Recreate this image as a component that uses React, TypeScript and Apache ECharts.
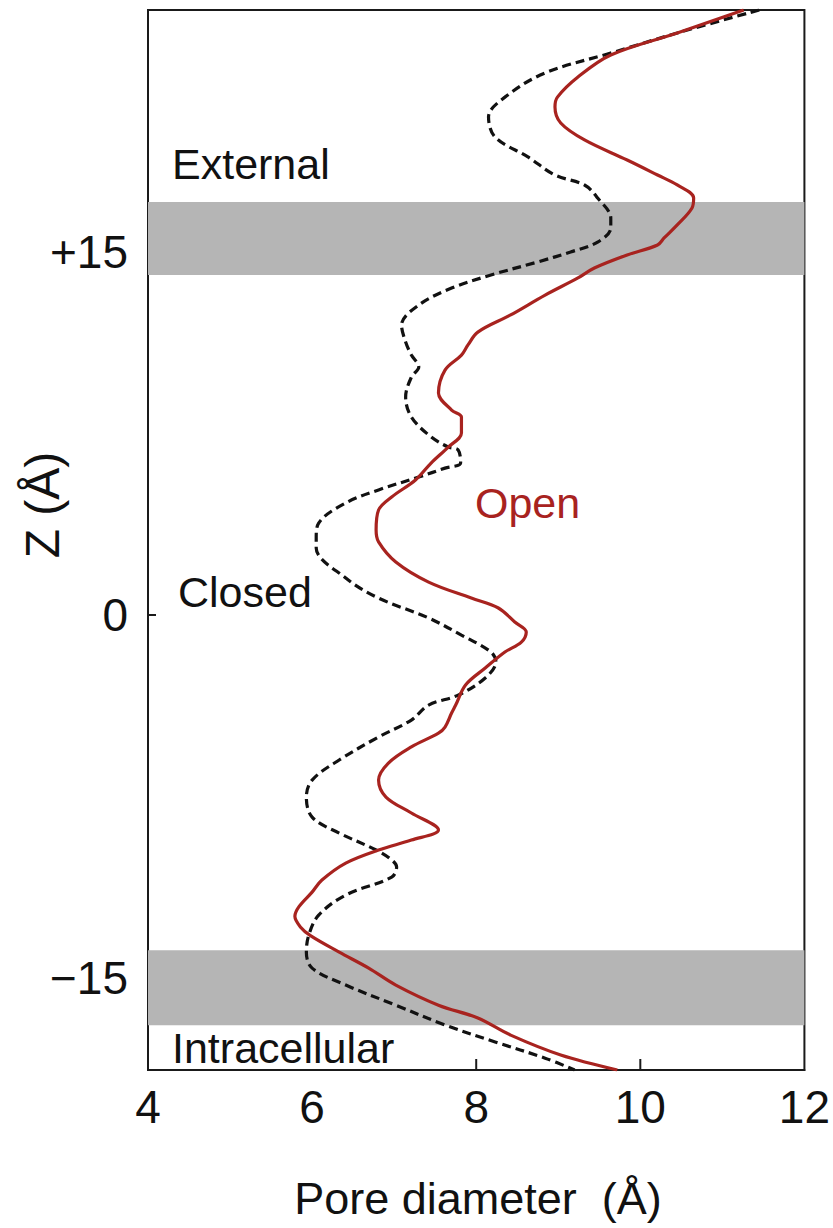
import React, { useEffect, useRef } from "react";
import * as echarts from "echarts";

// Pore diameter (Å) vs Z (Å)
const openProfile: [number, number][] = [
  [11.26, 25.0], [10.45, 24.05], [9.64, 23.14], [9.24, 22.23], [8.99, 21.4], [8.96, 20.99],
  [9.03, 20.33], [9.32, 19.63], [9.84, 18.8], [10.21, 18.18], [10.45, 17.77], [10.65, 17.23],
  [10.63, 16.82], [10.45, 16.12], [10.29, 15.58], [10.21, 15.29], [9.84, 14.88], [9.44, 14.34],
  [9.24, 13.93], [8.84, 13.22], [8.42, 12.4], [8.02, 11.69], [7.9, 11.16], [7.82, 10.74],
  [7.62, 10.12], [7.54, 9.17], [7.7, 8.47], [7.82, 8.18], [7.82, 7.52], [7.66, 6.94],
  [7.45, 6.28], [7.26, 5.58], [6.97, 4.88], [6.81, 4.34], [6.78, 3.51], [6.81, 3.02],
  [7.02, 2.19], [7.42, 1.36], [7.94, 0.7], [8.27, 0.29], [8.47, -0.29], [8.61, -0.7],
  [8.55, -1.12], [8.35, -1.53], [8.11, -2.19], [7.87, -2.89], [7.75, -3.72], [7.7, -4.05],
  [7.62, -4.63], [7.54, -4.88], [7.21, -5.45], [6.93, -6.12], [6.81, -6.82], [6.9, -7.52],
  [7.21, -8.18], [7.54, -8.88], [7.21, -9.3], [6.81, -9.71], [6.41, -10.25], [6.12, -10.95],
  [6.0, -11.45], [5.84, -12.05], [5.79, -12.45], [5.86, -12.9], [5.98, -13.25], [6.33, -13.93],
  [6.69, -14.59], [7.02, -15.29], [7.54, -16.12], [8.02, -16.65], [8.42, -17.36], [9.03, -18.18],
  [9.72, -18.8],
];

const closedProfile: [number, number][] = [
  [11.45, 25.0], [10.45, 24.05], [9.64, 23.22], [8.84, 22.4], [8.35, 21.4], [8.15, 20.58],
  [8.23, 19.75], [8.63, 18.93], [8.96, 18.18], [9.32, 17.77], [9.48, 17.23], [9.64, 16.4],
  [9.64, 15.99], [9.48, 15.41], [9.15, 15.0], [8.75, 14.59], [8.18, 14.05], [7.7, 13.51],
  [7.3, 12.81], [7.09, 11.98], [7.14, 11.28], [7.21, 10.74], [7.3, 10.25], [7.21, 9.83],
  [7.14, 9.01], [7.21, 8.18], [7.45, 7.36], [7.66, 6.94], [7.78, 6.82], [7.81, 6.28],
  [7.62, 6.07], [7.3, 5.7], [6.81, 5.17], [6.41, 4.63], [6.08, 3.8], [6.05, 3.18],
  [6.05, 2.77], [6.41, 1.53], [6.81, 0.7], [7.42, -0.12], [7.82, -0.83], [8.18, -1.53],
  [8.24, -1.94], [8.11, -2.6], [7.78, -3.31], [7.42, -3.72], [7.21, -4.34], [6.81, -5.04],
  [6.33, -5.99], [6.0, -6.82], [5.93, -7.52], [6.0, -8.35], [6.33, -9.01], [6.78, -9.71],
  [6.97, -10.12], [7.03, -10.41], [6.97, -10.83], [6.41, -11.57], [6.08, -12.4], [5.96, -13.22],
  [5.93, -13.93], [6.0, -14.59], [6.41, -15.29], [7.02, -16.12], [7.62, -16.94], [8.23, -17.64],
  [8.84, -18.31], [9.2, -18.8],
];

// membrane boundary bands (Z ranges)
const membraneBands: [number, number][] = [
  [14.05, 17.07],
  [-16.95, -13.85],
];

const Z_MIN = -18.8;
const Z_MAX = 25;
const xTickValues = [8, 10];
const yTickValues = [-15, 0, 15];
const yTickLabels: Record<string, string> = { "-15": "\u221215", "0": "0", "15": "+15" };

const FONT = "'Liberation Sans', Arial, Helvetica, sans-serif";
const RED = "#a8231f";
const INK = "#111111";
const FRAME = "#1a1a1a";

export default function App() {
  const ref = useRef<HTMLDivElement>(null);

  useEffect(() => {
    if (!ref.current) return;
    const chart = echarts.init(ref.current, null, { renderer: "svg" });

    const textGraphics: any[] = [
      {
        id: "t-ext",
        type: "text",
        left: 172,
        top: 142,
        z: 10,
        style: { text: "External", fontSize: 43, fontFamily: FONT, fill: INK },
      },
      {
        id: "t-closed",
        type: "text",
        left: 178,
        top: 570,
        z: 10,
        style: { text: "Closed", fontSize: 43, fontFamily: FONT, fill: INK },
      },
      {
        id: "t-open",
        type: "text",
        left: 475,
        top: 481,
        z: 10,
        style: { text: "Open", fontSize: 43, fontFamily: FONT, fill: RED },
      },
      {
        id: "t-intra",
        type: "text",
        left: 172,
        top: 1026,
        z: 10,
        style: { text: "Intracellular", fontSize: 43, fontFamily: FONT, fill: INK },
      },
      {
        id: "t-ylabel",
        type: "text",
        x: 42,
        y: 505,
        rotation: Math.PI / 2,
        z: 10,
        style: {
          text: "Z (Å)",
          fontSize: 48,
          fontFamily: FONT,
          fill: INK,
          textAlign: "center",
          textVerticalAlign: "middle",
        },
      },
      {
        id: "t-xlabel",
        type: "text",
        x: 478,
        y: 1198,
        z: 10,
        style: {
          text: "Pore diameter  (Å)",
          fontSize: 45,
          fontFamily: FONT,
          fill: INK,
          textAlign: "center",
          textVerticalAlign: "middle",
        },
      },
    ];

    const option: any = {
      animation: false,
      backgroundColor: "#ffffff",
      grid: {
        left: 148,
        right: 25,
        top: 10,
        bottom: 158,
        show: true,
        borderColor: FRAME,
        borderWidth: 2,
        backgroundColor: "transparent",
      },
      xAxis: {
        type: "value",
        min: 4,
        max: 12,
        interval: 2,
        position: "bottom",
        axisLine: { show: true, onZero: false, lineStyle: { color: FRAME, width: 2 } },
        axisTick: { show: false },
        axisLabel: {
          fontSize: 46,
          color: INK,
          margin: 14,
          fontFamily: FONT,
          showMinLabel: true,
          showMaxLabel: true,
        },
        splitLine: { show: false },
      },
      yAxis: {
        type: "value",
        min: Z_MIN,
        max: Z_MAX,
        position: "left",
        axisLine: { show: true, onZero: false, lineStyle: { color: FRAME, width: 2 } },
        axisTick: {
          show: true,
          inside: true,
          length: 8,
          customValues: yTickValues,
          lineStyle: { color: FRAME, width: 2 },
        },
        axisLabel: {
          customValues: yTickValues,
          formatter: (v: number) => yTickLabels[String(v)] ?? String(v),
          fontSize: 46,
          color: INK,
          margin: 20,
          fontFamily: FONT,
        },
        splitLine: { show: false },
      },
      series: [
        {
          name: "bands",
          type: "line",
          data: [],
          z: 1,
          silent: true,
          markArea: {
            silent: true,
            itemStyle: { color: "#b5b5b5", opacity: 1 },
            data: membraneBands.map(([a, b]) => [{ yAxis: a }, { yAxis: b }]),
          },
        },
        {
          name: "Closed",
          type: "line",
          data: closedProfile,
          z: 3,
          showSymbol: false,
          symbol: "none",
          smooth: 0.35,
          lineStyle: { color: "#111111", width: 3.2, type: [9, 5] },
        },
        {
          name: "Open",
          type: "line",
          data: openProfile,
          z: 4,
          showSymbol: false,
          symbol: "none",
          smooth: 0.35,
          lineStyle: { color: RED, width: 3.2 },
        },
      ],
      graphic: textGraphics,
    };

    chart.setOption(option);

    // inward tick marks on the bottom frame, positioned through the axis scale
    const tickGraphics = xTickValues.map((v, i) => {
      const p = chart.convertToPixel({ gridIndex: 0 }, [v, Z_MIN]) as number[];
      return {
        id: "xtick-" + i,
        type: "line",
        z: 20,
        silent: true,
        shape: { x1: p[0], y1: p[1], x2: p[0], y2: p[1] - 11 },
        style: { stroke: FRAME, lineWidth: 2 },
      };
    });
    chart.setOption({ graphic: [...textGraphics, ...tickGraphics] });

    return () => chart.dispose();
  }, []);

  return (
    <div
      ref={ref}
      style={{ position: "fixed", left: 0, top: 0, width: 833, height: 1228, background: "#fff" }}
    />
  );
}
